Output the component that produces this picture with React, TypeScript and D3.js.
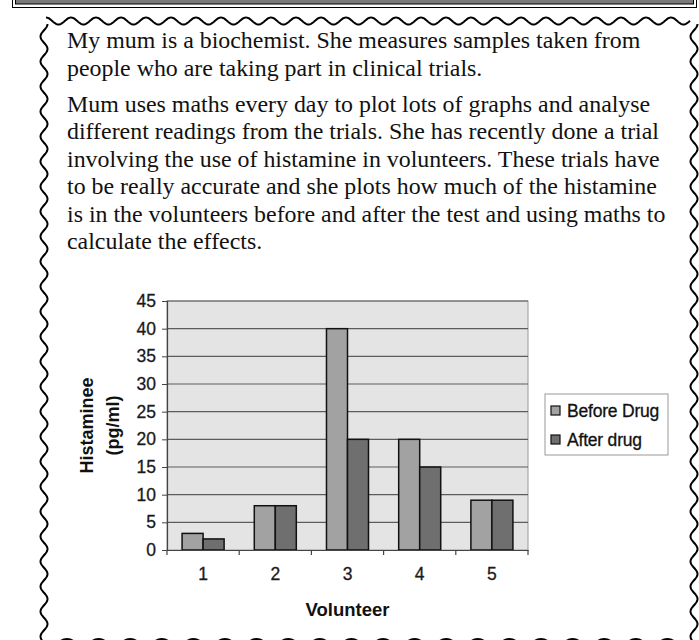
import React, { useEffect, useRef } from 'react';
import * as d3 from 'd3';

// chart values
const volunteers = ['1', '2', '3', '4', '5'];
const beforeDrug = [3, 8, 40, 20, 9];
const afterDrug = [2, 8, 20, 15, 9];
const yTicks = [0, 5, 10, 15, 20, 25, 30, 35, 40, 45];
const seriesNames = ['Before Drug', 'After drug'];
const seriesColors = ['#a2a2a2', '#6f6f6f'];

const paragraphs = [
  ['My mum is a biochemist. She measures samples taken from', 'people who are taking part in clinical trials.'],
  [
    'Mum uses maths every day to plot lots of graphs and analyse',
    'different readings from the trials. She has recently done a trial',
    'involving the use of histamine in volunteers. These trials have',
    'to be really accurate and she plots how much of the histamine',
    'is in the volunteers before and after the test and using maths to',
    'calculate the effects.',
  ],
];

const W = 699;
const H = 640;

const wavePath = (x0: number, y0: number, x1: number, y1: number, period: number, amp: number) => {
  const len = Math.hypot(x1 - x0, y1 - y0);
  const ux = (x1 - x0) / len, uy = (y1 - y0) / len;
  const nx = -uy, ny = ux;
  const pts: [number, number][] = [];
  for (let s = 0; s <= len; s += 1) {
    const o = -amp * Math.cos((2 * Math.PI * s) / period);
    pts.push([x0 + ux * s + nx * o, y0 + uy * s + ny * o]);
  }
  return d3.line()(pts) as string;
};

const App: React.FC = () => {
  const ref = useRef<SVGSVGElement>(null);

  useEffect(() => {
    const svg = d3.select(ref.current);
    svg.selectAll('*').remove();

    // page decoration: framed box at top
    svg.append('rect').attr('x', 12.5).attr('y', -10).attr('width', 684).attr('height', 17.5)
      .attr('fill', '#fff').attr('stroke', '#000').attr('stroke-width', 1);
    svg.append('rect').attr('x', 15.5).attr('y', -10).attr('width', 678).attr('height', 14)
      .attr('fill', '#7a7a7a').attr('stroke', '#000').attr('stroke-width', 1);

    // wavy borders
    const deco = svg.append('g').attr('fill', 'none').attr('stroke', '#000').attr('stroke-width', 2);
    deco.append('path').attr('d', wavePath(46, 21, 690, 21, 25, 3.5));
    deco.append('path').attr('d', wavePath(44, 24, 44, 645, 25, 3.5));
    deco.append('path').attr('d', wavePath(694, 24, 694, 645, 25, 3.5));
    d3.range(20).forEach(i => {
      deco.append('circle').attr('cx', 67 + i * 31.6).attr('cy', 650).attr('r', 11);
    });

    // text
    const text = svg.append('g').attr('font-family', '"Liberation Serif", "Times New Roman", serif')
      .attr('font-size', 23.9).attr('fill', '#111');
    let y = 48;
    paragraphs.forEach((lines, pi) => {
      if (pi > 0) y += 8.5;
      lines.forEach(l => {
        text.append('text').attr('x', 67).attr('y', y).text(l);
        y += 27.5;
      });
    });

    // chart
    const left = 167, right = 528, top = 301, bottom = 550;
    const x = d3.scaleBand().domain(volunteers).range([left, right]).paddingInner(0.418).paddingOuter(0.209);
    const xs = d3.scaleBand().domain(seriesNames).range([0, x.bandwidth()]);
    const yS = d3.scaleLinear().domain([0, 45]).range([bottom, top]);
    const font = '"Liberation Sans", Arial, sans-serif';

    svg.append('rect').attr('x', left).attr('y', top).attr('width', right - left).attr('height', bottom - top)
      .attr('fill', '#e4e4e4').attr('stroke', '#9a9a9a').attr('stroke-width', 1);

    svg.append('g').selectAll('line').data(yTicks.slice(1)).join('line')
      .attr('x1', left).attr('x2', right)
      .attr('y1', d => yS(d)).attr('y2', d => yS(d))
      .attr('stroke', '#5c5c5c').attr('stroke-width', 1.2);

    const groups = svg.append('g').selectAll('g').data(volunteers).join('g')
      .attr('transform', d => `translate(${x(d)},0)`);
    groups.selectAll('rect').data((d, i) => [beforeDrug[i], afterDrug[i]].map((v, k) => ({ v, k })))
      .join('rect')
      .attr('x', d => xs(seriesNames[d.k])!)
      .attr('width', xs.bandwidth())
      .attr('y', d => yS(d.v))
      .attr('height', d => bottom - yS(d.v))
      .attr('fill', d => seriesColors[d.k])
      .attr('stroke', '#111').attr('stroke-width', 1.5);

    const yAxis = svg.append('g').attr('transform', `translate(${left},0)`)
      .call(d3.axisLeft(yS).tickValues(yTicks).tickSize(5).tickPadding(6));
    yAxis.select('.domain').attr('stroke', '#444').attr('stroke-width', 1.2);
    yAxis.selectAll('line').attr('stroke', '#444');
    yAxis.selectAll('text').attr('font-family', font).attr('font-size', 17.5).attr('fill', '#1a1a1a')
      .attr('stroke', '#1a1a1a').attr('stroke-width', 0.3);

    const xAxis = svg.append('g').attr('transform', `translate(0,${bottom})`)
      .call(d3.axisBottom(x).tickSize(0).tickPadding(18));
    xAxis.select('.domain').attr('stroke', '#444').attr('stroke-width', 1.2);
    xAxis.selectAll('text').attr('font-family', font).attr('font-size', 17.5).attr('fill', '#1a1a1a')
      .attr('stroke', '#1a1a1a').attr('stroke-width', 0.3);
    svg.append('g').selectAll('line').data(d3.range(volunteers.length + 1)).join('line')
      .attr('x1', i => left + i * x.step()).attr('x2', i => left + i * x.step())
      .attr('y1', bottom).attr('y2', bottom + 5)
      .attr('stroke', '#444').attr('stroke-width', 1.2);

    svg.append('text').attr('x', (left + right) / 2).attr('y', 616).attr('text-anchor', 'middle')
      .attr('font-family', font).attr('font-weight', 'bold').attr('font-size', 18.5).attr('fill', '#111')
      .text('Volunteer');

    const yTitle = svg.append('text').attr('transform', `translate(93,${(top + bottom) / 2}) rotate(-90)`)
      .attr('text-anchor', 'middle').attr('font-family', font).attr('font-weight', 'bold')
      .attr('font-size', 18).attr('fill', '#111');
    yTitle.append('tspan').attr('x', 0).attr('dy', 0).text('Histaminee');
    yTitle.append('tspan').attr('x', 0).attr('dy', 26).text('(pg/ml)');

    // legend
    const lg = svg.append('g');
    lg.append('rect').attr('x', 545).attr('y', 394).attr('width', 123).attr('height', 61)
      .attr('fill', '#fff').attr('stroke', '#999').attr('stroke-width', 1);
    seriesNames.forEach((name, i) => {
      const cy = 411 + i * 29;
      lg.append('rect').attr('x', 551).attr('y', cy - 5).attr('width', 9).attr('height', 9)
        .attr('fill', seriesColors[i]).attr('stroke', '#111').attr('stroke-width', 1.2);
      lg.append('text').attr('x', 567).attr('y', cy + 6).attr('font-family', font)
        .attr('font-size', 17.5).attr('letter-spacing', -0.2).attr('fill', '#111')
        .attr('stroke', '#111').attr('stroke-width', 0.3).text(name);
    });
  }, []);

  return (
    <svg ref={ref} width={W} height={H} style={{ position: 'absolute', left: 0, top: 0, background: '#fff' }} />
  );
};

export default App;
